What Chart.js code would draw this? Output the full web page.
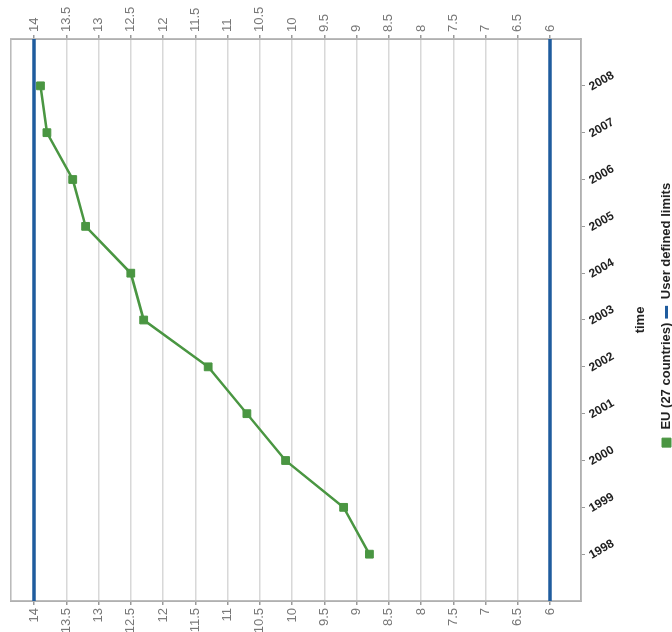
<!DOCTYPE html>
<html>
<head>
<meta charset="utf-8">
<script src="https://cdn.jsdelivr.net/npm/chart.js@4"></script>
<style>
  html, body { margin: 0; padding: 0; background: #fff; overflow: hidden; }
  body { width: 672px; height: 632px; position: relative; }
  /* the chart is drawn upright, then turned a quarter left like the scan */
  #wrap {
    position: absolute;
    left: 20px;
    top: -20px;
    width: 632px;
    height: 672px;
    transform: rotate(-90deg);
  }
</style>
</head>
<body>
<div id="wrap">
  <canvas id="myChart" width="632" height="672"></canvas>
</div>
<script>
// donnees
const years = [1998, 1999, 2000, 2001, 2002, 2003, 2004, 2005, 2006, 2007, 2008];
const euValues = [8.8, 9.2, 10.1, 10.7, 11.3, 12.3, 12.5, 13.2, 13.4, 13.8, 13.9];
const limitYears = [1997, 2009];
const upperLimit = [14, 14];
const lowerLimit = [6, 6];
const valueTicks = [6, 6.5, 7, 7.5, 8, 8.5, 9, 9.5, 10, 10.5, 11, 11.5, 12, 12.5, 13, 13.5, 14];

const green = '#4a9642';
const blue = '#1f5c9e';
const font = "'Liberation Sans', Arial, sans-serif";

const toPoints = (xs, ys) => xs.map((x, i) => ({x: x, y: ys[i]}));

// etiquettes des annees, penchees comme sur l'original
const yearLabels = {
    id: 'yearLabels',
    afterDraw: chart => {
        const scale = chart.scales.x;
        const ctx = chart.ctx;
        ctx.save();
        ctx.font = 'bold 12px ' + font;
        ctx.fillStyle = '#222';
        ctx.textAlign = 'left';
        ctx.textBaseline = 'middle';
        years.forEach(year => {
            const px = scale.getPixelForValue(year);
            ctx.save();
            ctx.translate(px - 2, scale.top + 9);
            ctx.rotate(Math.PI / 3);
            ctx.fillText(String(year), 0, 0);
            ctx.restore();
        });
        ctx.restore();
    }
};

// cadre gris autour de la zone de trace
const plotFrame = {
    id: 'plotFrame',
    beforeDatasetsDraw: chart => {
        const a = chart.chartArea;
        const ctx = chart.ctx;
        ctx.save();
        ctx.strokeStyle = '#b8b8b8';
        ctx.lineWidth = 1.5;
        ctx.strokeRect(a.left, a.top, a.right - a.left, a.bottom - a.top);
        ctx.restore();
    }
};

const setValueTicks = scale => {
    scale.ticks = valueTicks.map(v => ({value: v}));
};

const valueAxis = (position, width) => ({
    type: 'linear',
    position: position,
    min: 5.52,
    max: 14.36,
    afterBuildTicks: setValueTicks,
    afterFit: scale => { scale.width = width; },
    grid: {
        drawOnChartArea: position === 'left',
        color: '#d8d8d8',
        lineWidth: 1.5,
        tickLength: 4,
        tickColor: '#999'
    },
    border: { color: '#999', width: 1.5 },
    ticks: {
        padding: 3,
        color: '#777',
        font: { family: font, size: 13 },
        callback: v => String(v)
    }
});

const chartData = {
    datasets: [{
        label: 'EU (27 countries)',
        data: toPoints(years, euValues),
        borderColor: green,
        backgroundColor: green,
        borderWidth: 2.5,
        pointStyle: 'rect',
        pointRadius: 5.5,
        pointBorderWidth: 1,
        pointBackgroundColor: green,
        pointBorderColor: green,
        order: 0
    }, {
        label: 'User defined limits',
        data: toPoints(limitYears, upperLimit),
        borderColor: blue,
        backgroundColor: blue,
        borderWidth: 3.5,
        pointStyle: 'line',
        pointRadius: 0,
        pointBorderWidth: 3,
        pointBorderColor: blue,
        order: 1
    }, {
        label: 'User defined limits',
        data: toPoints(limitYears, lowerLimit),
        borderColor: blue,
        backgroundColor: blue,
        borderWidth: 3.5,
        pointStyle: 'line',
        pointRadius: 0,
        pointBorderWidth: 3,
        pointBorderColor: blue,
        order: 1
    }]
};

const config = {
    type: 'line',
    data: chartData,
    plugins: [plotFrame, yearLabels],
    options: {
        responsive: false,
        animation: false,
        layout: { padding: { top: 10, left: 0, right: 0, bottom: -11 } },
        plugins: {
            legend: {
                position: 'bottom',
                labels: {
                    usePointStyle: true,
                    boxHeight: 9,
                    padding: 4,
                    color: '#222',
                    font: { family: font, size: 13, weight: 'bold' },
                    filter: (item, data) => item.datasetIndex < 2
                }
            },
            tooltip: { enabled: false }
        },
        scales: {
            x: {
                type: 'linear',
                position: 'bottom',
                min: limitYears[0],
                max: limitYears[1],
                afterBuildTicks: scale => {
                    scale.ticks = years.map(y => ({value: y}));
                },
                afterFit: scale => { scale.height = 75; },
                grid: {
                    drawOnChartArea: false,
                    tickLength: 4,
                    tickColor: '#999'
                },
                border: { color: '#999', width: 1.5 },
                ticks: { display: false },
                title: {
                    display: true,
                    text: 'time',
                    color: '#222',
                    padding: { top: 0, bottom: 8 },
                    font: { family: font, size: 13, weight: 'bold' }
                }
            },
            y: valueAxis('left', 31),
            y2: valueAxis('right', 39)
        }
    }
};

const ctx = document.getElementById('myChart').getContext('2d');
const myChart = new Chart(ctx, config);
</script>
</body>
</html>
